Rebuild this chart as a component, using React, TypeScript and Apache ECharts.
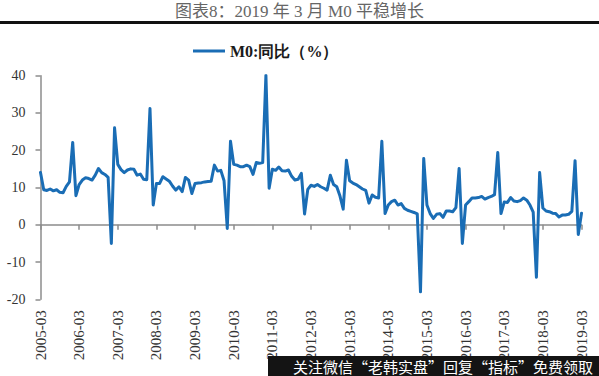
import React, { useEffect, useRef } from "react";
import * as echarts from "echarts";

// M0 YoY (%), monthly, 2005-03 .. 2019-03
const y2005 = [14.0, 9.4, 9.2, 9.6, 9.1, 9.4, 8.7, 8.6, 10.3, 11.5]; // Mar..Dec
const y2006 = [22.1, 7.8, 10.8, 12.0, 12.6, 12.4, 12.0, 13.3, 15.1, 14.0, 13.5, 12.7];
const y2007 = [-5.0, 26.0, 16.2, 14.8, 14.0, 14.7, 15.0, 14.9, 13.3, 13.6, 12.2, 12.1];
const y2008 = [31.2, 5.3, 11.1, 11.1, 12.9, 12.3, 11.7, 10.4, 9.3, 10.2, 8.9, 12.7];
const y2009 = [12.0, 8.4, 11.1, 11.2, 11.3, 11.5, 11.6, 11.7, 16.0, 14.4, 14.6, 11.8];
const y2010 = [-1.0, 22.4, 16.2, 16.0, 15.6, 15.6, 16.0, 15.6, 13.5, 16.7, 16.5, 16.7];
const y2011 = [40.1, 9.8, 14.9, 14.6, 15.5, 14.5, 14.4, 14.7, 13.0, 12.0, 12.2, 13.8];
const y2012 = [2.9, 9.5, 10.6, 10.3, 10.8, 10.2, 9.8, 9.3, 13.3, 10.8, 10.2, 7.7];
const y2013 = [4.2, 17.3, 11.8, 11.2, 10.8, 10.2, 9.6, 9.2, 5.8, 8.0, 7.4, 7.2];
const y2014 = [22.4, 3.0, 5.3, 6.2, 6.6, 5.3, 5.7, 4.4, 3.9, 3.6, 3.3, 2.9];
const y2015 = [-18.0, 17.8, 5.3, 3.0, 1.7, 2.8, 3.0, 2.0, 3.7, 3.7, 3.5, 4.6];
const y2016 = [15.1, -5.0, 5.3, 6.2, 7.2, 7.2, 7.3, 7.6, 6.9, 7.3, 7.6, 8.1];
const y2017 = [19.4, 3.0, 6.1, 6.0, 7.3, 6.4, 6.2, 6.5, 7.2, 6.6, 5.3, 3.4];
const y2018 = [-14.1, 14.0, 4.5, 3.7, 3.5, 3.1, 3.0, 2.1, 2.6, 2.6, 2.8, 3.6];
const y2019 = [17.2, -2.6, 3.1]; // Jan..Mar

const m0Values = [
  ...y2005, ...y2006, ...y2007, ...y2008, ...y2009, ...y2010, ...y2011, ...y2012,
  ...y2013, ...y2014, ...y2015, ...y2016, ...y2017, ...y2018, ...y2019,
];

const startYear = 2005;
const startMonth = 3;
const categories: string[] = m0Values.map((_, i) => {
  const m = startMonth - 1 + i;
  const yr = startYear + Math.floor(m / 12);
  const mo = (m % 12) + 1;
  return `${yr}-${mo < 10 ? "0" + mo : mo}`;
});

const yTicks = { min: -20, max: 40, interval: 10 };
const titleText = "图表8：2019 年 3 月 M0 平稳增长";
const seriesName = "M0:同比（%）";
const watermark = "关注微信“老韩实盘”回复“指标”免费领取";

export default function App() {
  const ref = useRef<HTMLDivElement>(null);
  useEffect(() => {
    if (!ref.current) return;
    const chart = echarts.init(ref.current, undefined, { renderer: "svg" });
    const axisGray = "#8c8c8c";
    const serif = "'Liberation Serif', 'Times New Roman', serif";
    chart.setOption({
      animation: false,
      backgroundColor: "#ffffff",
      grid: { left: 40.5, right: 17.5, top: 75.7, bottom: 76.7, containLabel: false },
      legend: {
        data: [seriesName],
        left: 188,
        top: 38,
        icon: "rect",
        itemWidth: 32,
        itemHeight: 3,
        textStyle: { fontFamily: serif, fontWeight: "bold", fontSize: 16, color: "#1a1a1a" },
      },
      xAxis: [
        {
          type: "category",
          data: categories,
          boundaryGap: false,
          position: "bottom",
          axisLine: { onZero: true, lineStyle: { color: axisGray, width: 1.5 } },
          axisTick: { show: true, interval: 11, length: 5, lineStyle: { color: axisGray, width: 1.5 } },
          axisLabel: { show: false },
          splitLine: { show: false },
        },
        {
          type: "category",
          data: categories,
          boundaryGap: false,
          position: "bottom",
          axisLine: { show: false, onZero: false },
          axisTick: { show: false },
          axisLabel: {
            show: true,
            interval: 11,
            rotate: 90,
            margin: 11,
            fontSize: 15,
            fontFamily: serif,
            color: "#333",
          },
          splitLine: { show: false },
        },
      ],
      yAxis: {
        type: "value",
        min: yTicks.min,
        max: yTicks.max,
        interval: yTicks.interval,
        axisLine: { show: true, lineStyle: { color: axisGray, width: 1.5 } },
        axisTick: { show: true, length: 5, lineStyle: { color: axisGray, width: 1.5 } },
        axisLabel: { margin: 15, fontSize: 14, fontFamily: serif, color: "#333" },
        splitLine: { show: false },
      },
      series: [
        {
          name: seriesName,
          type: "line",
          xAxisIndex: 0,
          data: m0Values,
          symbol: "none",
          color: "#1a6db5",
          lineStyle: { width: 3, color: "#1a6db5", join: "round", cap: "round" },
        },
      ],
      graphic: [
        {
          type: "text",
          left: "center",
          top: 3,
          style: {
            text: titleText,
            fontSize: 17,
            fontFamily: "'Liberation Serif', 'Noto Sans CJK SC', serif",
            fill: "#666",
          },
        },
        {
          type: "rect",
          shape: { x: 0, y: 21, width: 599, height: 3 },
          style: { fill: "#111" },
        },
        {
          type: "rect",
          z: 100,
          shape: { x: 268, y: 356, width: 331, height: 20 },
          style: { fill: "#141414" },
        },
        {
          type: "text",
          z: 101,
          x: 593,
          y: 366,
          style: {
            text: watermark,
            fontSize: 15,
            fontFamily: "'Noto Sans CJK SC', sans-serif",
            fill: "#ffffff",
            verticalAlign: "middle",
            align: "right",
          },
        },
      ],
    });
    return () => chart.dispose();
  }, []);
  return <div ref={ref} style={{ width: 599, height: 376, position: "absolute", left: 0, top: 0 }} />;
}
